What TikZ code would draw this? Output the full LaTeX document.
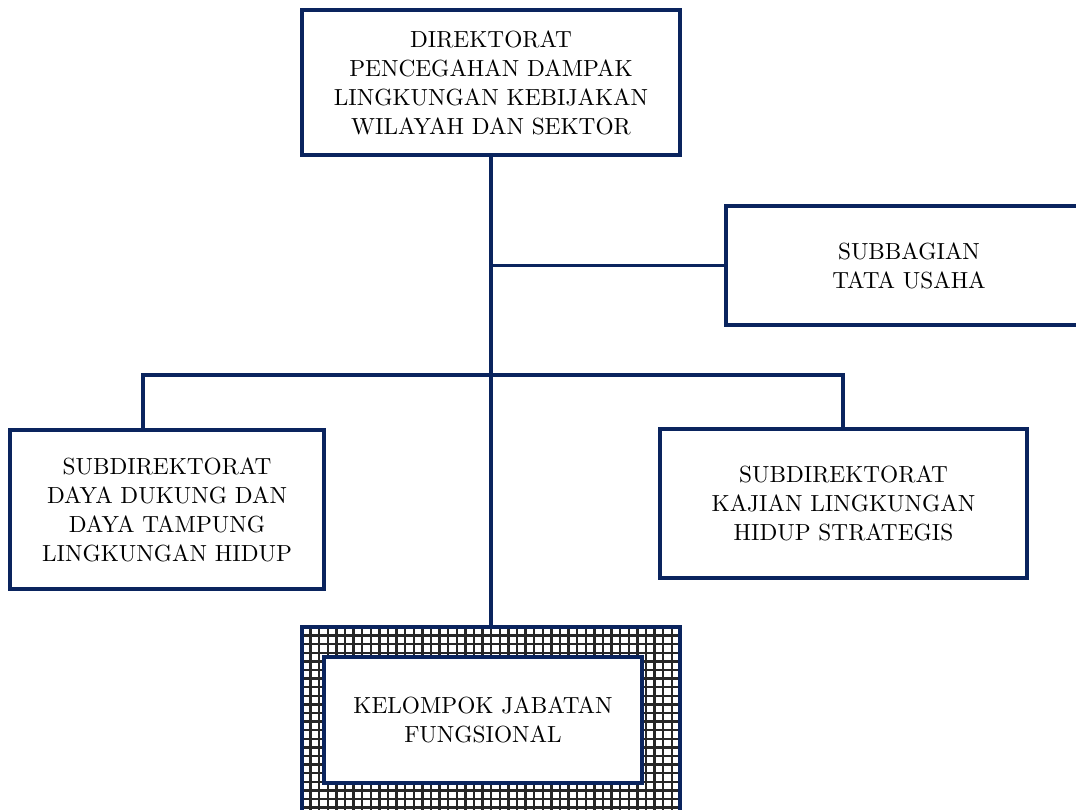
\documentclass[tikz,border=0pt]{standalone}
\usepackage{fontspec}
\setmainfont{lmroman10-regular.otf}
\definecolor{navy}{RGB}{10,36,94}
\begin{document}
\begin{tikzpicture}[x=1pt,y=-1pt,
  box/.style={draw=navy, line width=3.6pt, fill=white, rectangle, inner sep=0pt,
    align=center, font=\fontsize{23.3}{29}\selectfont},
  link/.style={draw=navy, line width=3.6pt},
  gridline/.style={draw=black!85, line width=2.4pt}]
\useasboundingbox (0,0) rectangle (1076,809);
\clip (0,0) rectangle (1076,809);
% hatched frame of the bottom box
\begin{scope}
  \clip (302,627) rectangle (680,840);
  \fill[white] (302,627) rectangle (680,840);
  \foreach \i in {0,...,44} {
    \draw[gridline] (302+\i*8.6,627) -- (302+\i*8.6,840);
  }
  \foreach \i in {0,...,25} {
    \draw[gridline] (302,627+\i*8.6) -- (680,627+\i*8.6);
  }
\end{scope}
\node[box, minimum width=378pt, minimum height=145pt] (dir) at (491,82.5)
  {DIREKTORAT\\PENCEGAHAN DAMPAK\\LINGKUNGAN KEBIJAKAN\\WILAYAH DAN SEKTOR};
\node[box, minimum width=366pt, minimum height=119pt] (sub) at (909,265.5)
  {SUBBAGIAN\\TATA USAHA};
\node[box, minimum width=314pt, minimum height=159pt] (ld) at (167,509.5)
  {SUBDIREKTORAT\\DAYA DUKUNG DAN\\DAYA TAMPUNG\\LINGKUNGAN HIDUP};
\node[box, minimum width=367pt, minimum height=149pt] (rd) at (843.5,503.5)
  {SUBDIREKTORAT\\KAJIAN LINGKUNGAN\\HIDUP STRATEGIS};
\node[box, fill=none, minimum width=378pt, minimum height=213pt] (kjfo) at (491,733.5) {};
\node[box, minimum width=318pt, minimum height=126pt] (kjf) at (483,720)
  {KELOMPOK JABATAN\\FUNGSIONAL};
% connectors
\coordinate (tu) at (dir.south |- sub.west);
\coordinate (lv) at (143,375);
\coordinate (rv) at (843,375);
\draw[link] (dir.south) -- (kjfo.north);
\draw[link] (tu) -- (sub.west);
\draw[link] (lv |- ld.north) -- (lv) -- (rv) -- (rv |- rd.north);
\end{tikzpicture}
\end{document}
